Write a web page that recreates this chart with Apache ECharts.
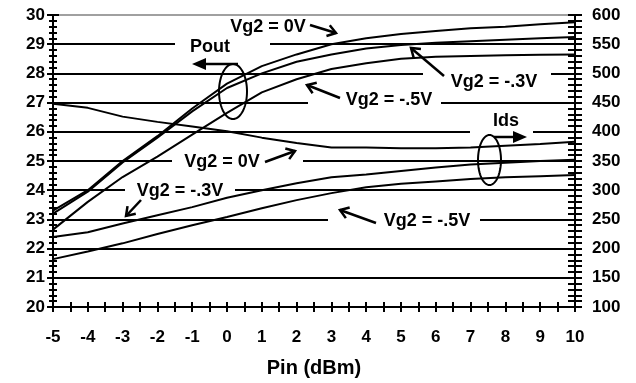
<!DOCTYPE html>
<html>
<head>
<meta charset="utf-8">
<script src="https://cdn.jsdelivr.net/npm/echarts@6/dist/echarts.min.js"></script>
<style>html,body{margin:0;padding:0;background:#fff;}#c{width:636px;height:383px;}</style>
</head>
<body>
<div id="c"></div>
<script>
var pin = [-5, -4, -3, -2, -1, 0, 1, 2, 3, 4, 5, 6, 7, 8, 9, 10];
var pout0V = [23.3, 24.0, 25.0, 25.85, 26.8, 27.65, 28.25, 28.65, 29.0, 29.2, 29.35, 29.45, 29.55, 29.6, 29.68, 29.75];
var pout03V = [23.2, 23.95, 24.95, 25.8, 26.7, 27.5, 28.0, 28.4, 28.65, 28.85, 28.97, 29.05, 29.1, 29.15, 29.2, 29.25];
var pout05V = [22.65, 23.6, 24.45, 25.15, 25.9, 26.65, 27.35, 27.8, 28.15, 28.35, 28.5, 28.57, 28.6, 28.62, 28.64, 28.65];
var ids0V = [448, 441, 426, 417, 409, 401, 390, 381, 373, 373, 372, 372, 373, 376, 379, 383];
var ids03V = [220, 228, 243, 257, 271, 287, 300, 312, 322, 327, 333, 339, 344, 347, 350, 352];
var ids05V = [182, 195, 209, 225, 240, 254, 269, 283, 295, 305, 311, 315, 319, 322, 324, 326];
var xTicks = {min: -5, max: 10, step: 1};
var leftTicks = {min: 20, max: 30, step: 1};
var rightTicks = {min: 100, max: 600, step: 50};
var xName = 'Pin (dBm)';

function pairs(ys) { return pin.map(function (x, i) { return [x, ys[i]]; }); }

var FONT = '"Liberation Sans", Arial, sans-serif';
var g = [];
// white gaps in gridlines behind labels (below series)
function gap(x1, x2, yc) {
  g.push({type: 'rect', z: 1, shape: {x: x1, y: yc - 7, width: x2 - x1, height: 14}, style: {fill: '#fff'}, silent: true});
}
gap(175, 270, 44);
gap(423, 551, 73);
gap(308, 441, 103);
gap(470, 533, 132);
gap(172, 303, 161.5);
gap(125, 235, 191);
gap(328, 480, 220);

function label(t, x, y) {
  g.push({type: 'text', z: 10, style: {text: t, x: x, y: y, font: 'bold 18px ' + FONT, fill: '#000', textAlign: 'center', textVerticalAlign: 'middle'}});
}
function arrow(x1, y1, x2, y2) {
  var a = Math.atan2(y2 - y1, x2 - x1), L = 10, s = 0.6;
  g.push({type: 'line', z: 10, shape: {x1: x1, y1: y1, x2: x2, y2: y2}, style: {stroke: '#000', lineWidth: 2.5}});
  g.push({type: 'polyline', z: 10, shape: {points: [
    [x2 - L * Math.cos(a - s), y2 - L * Math.sin(a - s)], [x2, y2],
    [x2 - L * Math.cos(a + s), y2 - L * Math.sin(a + s)]]}, style: {stroke: '#000', lineWidth: 2.5, fill: null}});
}
function ellipse(cx, cy, rx, ry) {
  var pts = [];
  for (var i = 0; i < 72; i++) { var t = i / 72 * Math.PI * 2; pts.push([cx + rx * Math.cos(t), cy + ry * Math.sin(t)]); }
  g.push({type: 'polygon', z: 10, shape: {points: pts}, style: {stroke: '#000', lineWidth: 2, fill: null}});
}
function solidArrow(x1, x2, y, dir) {
  var tipBase = x2 - dir * 14;
  g.push({type: 'line', z: 10, shape: {x1: x1, y1: y, x2: tipBase, y2: y}, style: {stroke: '#000', lineWidth: 2.5}});
  g.push({type: 'polygon', z: 10, shape: {points: [[x2, y], [tipBase, y - 6], [tipBase, y + 6]]}, style: {fill: '#000'}});
}

label('Vg2 = 0V', 268, 27); arrow(310, 25, 336, 33);
label('Pout', 210, 47); solidArrow(238, 192, 64, -1); ellipse(233, 91.5, 14, 27.5);
label('Vg2 = -.3V', 494, 82); arrow(444, 76, 411, 48);
label('Vg2 = -.5V', 389, 100); arrow(340, 98, 307, 85);
label('Ids', 506, 121); solidArrow(494, 527, 137, 1); ellipse(489.5, 160, 11.5, 25);
label('Vg2 = 0V', 222, 162); arrow(265, 162, 295, 151);
label('Vg2 = -.3V', 180, 191); arrow(141, 200, 126, 216);
label('Vg2 = -.5V', 427, 221); arrow(376, 223, 340, 210);

var splitColors = [];
for (var v = leftTicks.min; v <= leftTicks.max; v += leftTicks.step) splitColors.push(v === leftTicks.max ? '#a0a0a0' : '#000');

var lblStyle = {color: '#000', fontWeight: 'bold', fontSize: 17, fontFamily: FONT};
function yAx(pos, t, inside, main) {
  return {
    type: 'value', position: pos, min: t.min, max: t.max, interval: t.step,
    axisLine: {show: main, onZero: false, lineStyle: {color: '#000', width: 2}},
    axisTick: {show: true, inside: inside, length: pos === 'left' ? 6 : 7, lineStyle: {color: '#000', width: 2}},
    minorTick: {show: true, splitNumber: 5, length: pos === 'left' ? 4 : 7, lineStyle: {color: '#000', width: 2}},
    axisLabel: main ? Object.assign({margin: pos === 'left' ? 8 : 17}, lblStyle) : {show: false},
    splitLine: {show: main && pos === 'left', lineStyle: {color: splitColors, width: 2}}
  };
}
function xAx(inside, main) {
  return {
    type: 'value', position: 'bottom', min: xTicks.min, max: xTicks.max, interval: xTicks.step,
    name: main ? xName : '', nameLocation: 'middle', nameGap: 51,
    nameTextStyle: {color: '#000', fontWeight: 'bold', fontSize: 20, fontFamily: FONT},
    axisLine: {show: main, onZero: false, lineStyle: {color: '#000', width: 2}},
    axisTick: {show: true, inside: inside, length: 5, lineStyle: {color: '#000', width: 2}},
    minorTick: {show: true, splitNumber: 2, length: 5, lineStyle: {color: '#000', width: 2}},
    axisLabel: main ? Object.assign({margin: 22}, lblStyle) : {show: false},
    splitLine: {show: false}
  };
}
function ser(data, yi) {
  return {type: 'line', data: pairs(data), yAxisIndex: yi, xAxisIndex: 0, symbol: 'none', z: 3,
    lineStyle: {color: '#000', width: 2}, itemStyle: {color: '#000'}, animation: false};
}

var chart = echarts.init(document.getElementById('c'));
chart.setOption({
  animation: false,
  backgroundColor: '#fff',
  grid: {left: 53, right: 61, top: 15, bottom: 75},
  xAxis: [xAx(false, true), xAx(true, false)],
  yAxis: [yAx('left', leftTicks, false, true), yAx('left', leftTicks, true, false),
          yAx('right', rightTicks, false, true), yAx('right', rightTicks, true, false)],
  series: [ser(pout0V, 0), ser(pout03V, 0), ser(pout05V, 0), ser(ids0V, 2), ser(ids03V, 2), ser(ids05V, 2)],
  graphic: g
});
</script>
</body>
</html>
